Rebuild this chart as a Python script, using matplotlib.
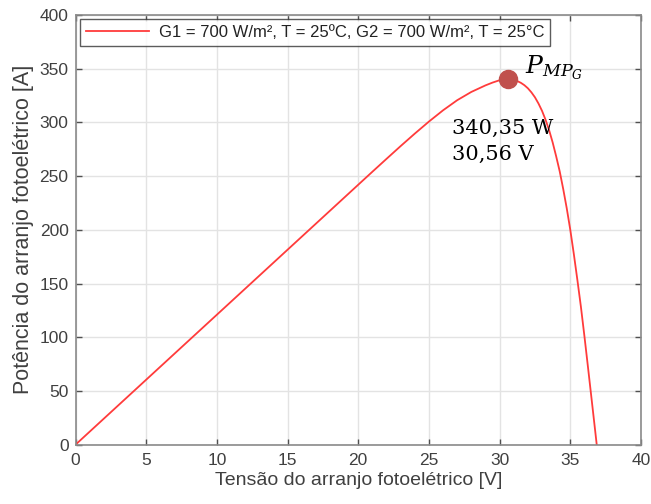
import matplotlib
matplotlib.use("Agg")
import matplotlib.pyplot as plt

# Array voltage [V] and power [W] samples
voltage = [0, 5, 10, 15, 20, 21, 22, 23, 24, 25, 26, 27, 28, 29, 29.5, 30,
           30.3, 30.56, 30.8, 31, 31.25, 31.5, 31.75, 32, 32.25, 32.5, 32.75,
           33, 33.25, 33.5, 33.75, 34, 34.25, 34.5, 34.75, 35, 35.25, 35.5,
           35.75, 36, 36.25, 36.5, 36.75, 36.87]
power = [0, 60.5, 121, 181.5, 242, 254.1, 266.1, 278, 289.6, 300.8, 311.3,
         320.7, 328.4, 334.5, 337.1, 339.3, 340.1, 340.35, 340.1, 339.6, 338.5,
         336.9, 334.7, 331.8, 328.0, 323.4, 317.6, 310.8, 302.5, 292.9, 281.5,
         268.5, 254.5, 238, 220, 200, 177.5, 153.5, 128.5, 101, 72.3, 43.2,
         14.1, 0]

mpp_v = 30.56
mpp_p = 340.35

legend_label = "G1 = 700 W/m², T = 25ºC, G2 = 700 W/m², T = 25°C"
x_label = "Tensão do arranjo fotoelétrico [V]"
y_label = "Potência do arranjo fotoelétrico [A]"

plt.rcParams['font.family'] = ['Liberation Sans', 'DejaVu Sans']

fig = plt.figure(figsize=(6.51, 5.04), dpi=100)
ax = fig.add_axes([0.116, 0.1177, 0.8686, 0.8525])

ax.plot(voltage, power, color='#ff3b3b', lw=1.3, label=legend_label)
ax.plot([mpp_v], [mpp_p], 'o', color='#c0504d', ms=13, zorder=5)

ax.set_xlim(0, 40)
ax.set_ylim(0, 400)
ax.set_xticks(range(0, 41, 5))
ax.set_yticks(range(0, 401, 50))

ax.grid(True, color='#e3e3e3', lw=1)
ax.set_axisbelow(True)
for s in ax.spines.values():
    s.set_color('#8a8a8a')
    s.set_linewidth(1.2)
ax.tick_params(direction='in', length=4, width=1, colors='#505050',
               labelcolor='#404040', labelsize=12.5, top=True, right=True)
ax.tick_params(axis='x', pad=6)
ax.tick_params(axis='y', pad=5)

ax.set_xlabel(x_label, fontsize=14, color='#404040', labelpad=3)
ax.set_ylabel(y_label, fontsize=15.5, color='#404040', labelpad=4)

leg = ax.legend(loc='upper left', fontsize=12, frameon=True, fancybox=False,
                borderaxespad=0.25, handlelength=3.8, handletextpad=0.6,
                borderpad=0.35)
leg.get_frame().set_edgecolor('#333333')
leg.get_frame().set_linewidth(1.0)
for t in leg.get_texts():
    t.set_color('#222222')

ax.text(31.8, 351, r'$P_{MP_G}$', fontsize=18, va='center', ha='left',
        math_fontfamily='dejavuserif')
ax.text(26.6, 282, '340,35 W\n30,56 V', fontsize=15, va='center', ha='left',
        family=['DejaVu Serif'], linespacing=1.45)

fig.savefig('out.png', dpi=100)
